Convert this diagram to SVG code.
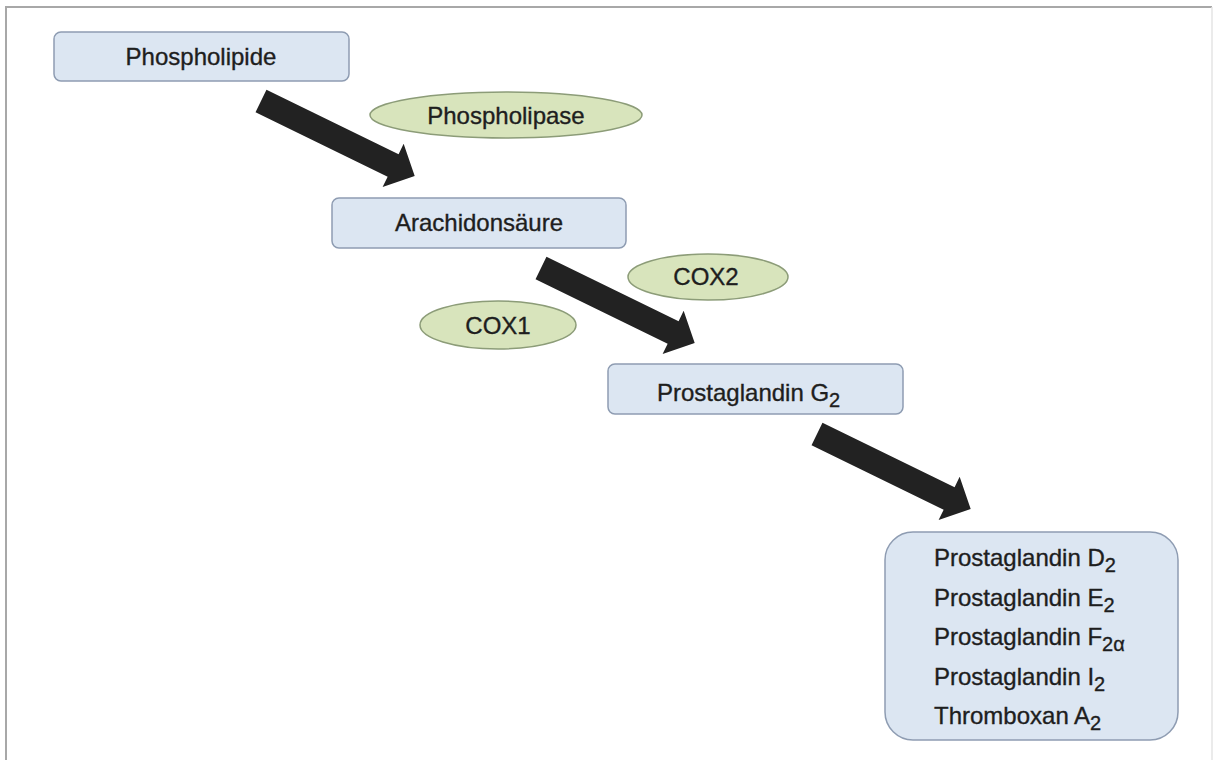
<svg xmlns="http://www.w3.org/2000/svg" width="1215" height="760" viewBox="0 0 1215 760">
<style>
.box{fill:#dce6f2;stroke:#8e9cb2;stroke-width:1.5}
.enz{fill:#d8e4bc;stroke:#8c9c78;stroke-width:1.5}
.t{font-family:"Liberation Sans",Arial,sans-serif;font-size:24px;fill:#1e1e1e;stroke:#1e1e1e;stroke-width:0.35}
.m{text-anchor:middle}
.s{font-size:20px}
.arrow{fill:#222222}
</style>
<defs>
<path id="blk" d="M0,-12.5 H147 V-24 L171,0 L147,24 V12.5 H0 Z"/>
</defs>
<rect x="0" y="0" width="1215" height="760" fill="#ffffff"/>
<path d="M6,760 V7 H1212" fill="none" stroke="#a8a8a8" stroke-width="2"/>
<path d="M1212,7 V760" fill="none" stroke="#e4e4e4" stroke-width="1.5"/>
<g id="connectors">
<use href="#blk" class="arrow" transform="translate(261,101) rotate(26)"/>
<use href="#blk" class="arrow" transform="translate(541,268) rotate(26)"/>
<use href="#blk" class="arrow" transform="translate(817,434) rotate(26)"/>
</g>
<g id="phospholipide">
<rect class="box" x="54" y="32" width="295" height="49" rx="7"/>
<text class="t m" x="201" y="65">Phospholipide</text>
</g>
<g id="phospholipase">
<ellipse class="enz" cx="506" cy="115" rx="136" ry="23"/>
<text class="t m" x="506" y="124">Phospholipase</text>
</g>
<g id="arachidonsaeure">
<rect class="box" x="332" y="198" width="294" height="50" rx="7"/>
<text class="t m" x="479" y="231">Arachidonsäure</text>
</g>
<g id="cox2">
<ellipse class="enz" cx="708" cy="277" rx="80" ry="23"/>
<text class="t m" x="706" y="285">COX2</text>
</g>
<g id="cox1">
<ellipse class="enz" cx="498" cy="325" rx="78" ry="24"/>
<text class="t m" x="498" y="334">COX1</text>
</g>
<g id="prostaglandin-g2">
<rect class="box" x="608" y="364" width="295" height="50" rx="7"/>
<text class="t" x="657" y="401">Prostaglandin G<tspan class="s" dy="6">2</tspan></text>
</g>
<g id="products">
<rect class="box" x="885" y="532" width="293" height="208" rx="28"/>
<text class="t" x="934" y="566">Prostaglandin D<tspan class="s" dy="6">2</tspan></text>
<text class="t" x="934" y="606">Prostaglandin E<tspan class="s" dy="6">2</tspan></text>
<text class="t" x="934" y="645">Prostaglandin F<tspan class="s" dy="6">2α</tspan></text>
<text class="t" x="934" y="685">Prostaglandin I<tspan class="s" dy="6">2</tspan></text>
<text class="t" x="934" y="724">Thromboxan A<tspan class="s" dy="6">2</tspan></text>
</g>
</svg>
